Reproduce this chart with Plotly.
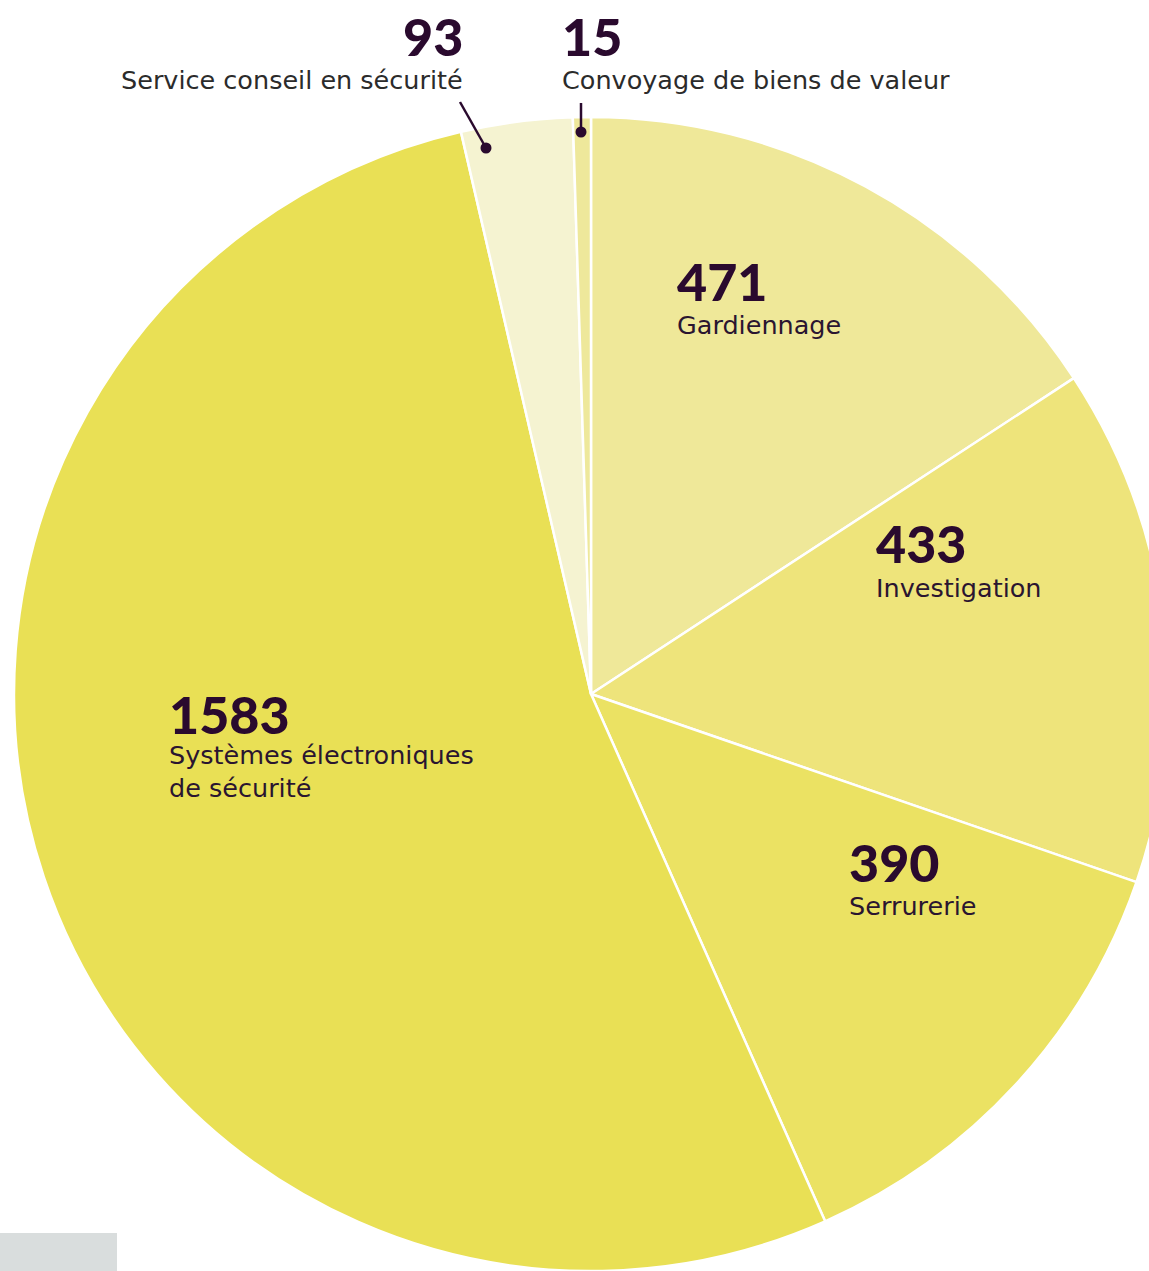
import plotly.graph_objects as go

# ---- data ----
categories = ["Gardiennage", "Investigation", "Serrurerie",
              "Systèmes électroniques de sécurité",
              "Service conseil en sécurité", "Convoyage de biens de valeur"]
values = [471, 433, 390, 1583, 93, 15]
label_texts = ["Gardiennage", "Investigation", "Serrurerie",
               "Systèmes électroniques<br>de sécurité",
               "Service conseil en sécurité", "Convoyage de biens de valeur"]
colors = ["#EFE899", "#EEE47B", "#EBE263", "#E9E055", "#F5F3D1", "#EEE89B"]

W, H = 1168, 1271


def px(x):
    return x / W


def py(y):
    return 1 - y / H


fig = go.Figure()
fig.add_trace(go.Pie(
    labels=categories, values=values,
    marker=dict(colors=colors, line=dict(color="white", width=2.5)),
    sort=False, direction="clockwise", rotation=0,
    textinfo="none", hoverinfo="label+value",
    domain=dict(x=[14 / W, 1], y=[0, (H - 117) / H]),
    showlegend=False,
))

NUM_COLOR = "#2A0A2E"
LAB_COLOR_IN = "#2A1530"
LAB_COLOR_OUT = "#2B2B2B"
NUM_FONT = dict(family="Lato Black, Lato", size=52, color=NUM_COLOR, weight=900)
LAB_FAMILY = "DejaVu Sans"
LAB_SIZE = 25.5

# (number anchor x, number center y, label center y, xanchor, label color)
placements = [
    (676, 281, 325, "left", LAB_COLOR_IN),
    (875, 543, 588, "left", LAB_COLOR_IN),
    (848, 862, 906, "left", LAB_COLOR_IN),
    (168, 714, 771, "left", LAB_COLOR_IN),
    (464, 36, 80, "right", LAB_COLOR_OUT),
    (561, 36, 80, "left", LAB_COLOR_OUT),
]

annotations = []
for v, t, (x, ny, ly, xa, lc) in zip(values, label_texts, placements):
    annotations.append(dict(
        x=px(x), y=py(ny), xref="paper", yref="paper",
        text=f"<b>{v}</b>", showarrow=False, xanchor=xa, yanchor="middle",
        align=xa, font=NUM_FONT, borderpad=0))
    annotations.append(dict(
        x=px(x), y=py(ly), xref="paper", yref="paper",
        text=t, showarrow=False, xanchor=xa, yanchor="middle", align=xa,
        font=dict(family=LAB_FAMILY, size=LAB_SIZE, color=lc), borderpad=0))

shapes = []
# leader lines with dots for the two small slices
leaders = [((460, 102), (486, 148)), ((581, 103), (581, 132))]
for (x0, y0), (x1, y1) in leaders:
    shapes.append(dict(type="line", xref="paper", yref="paper",
                       x0=px(x0), y0=py(y0), x1=px(x1), y1=py(y1),
                       line=dict(color=NUM_COLOR, width=2.5)))
    r = 5.5
    shapes.append(dict(type="circle", xref="paper", yref="paper",
                       x0=px(x1 - r), x1=px(x1 + r), y0=py(y1 + r), y1=py(y1 - r),
                       fillcolor=NUM_COLOR, line=dict(width=0)))
# grey tab at bottom-left
shapes.append(dict(type="rect", xref="paper", yref="paper",
                   x0=0, x1=px(117), y0=0, y1=py(1233),
                   fillcolor="#D9DDDD", line=dict(width=0), layer="above"))

fig.update_layout(
    width=W, height=H,
    margin=dict(l=0, r=0, t=0, b=0),
    paper_bgcolor="white", plot_bgcolor="white",
    annotations=annotations, shapes=shapes,
)

fig.write_html(
    "out.html",
    config={"displayModeBar": False},
    post_script="document.body.style.margin='0';document.body.style.overflow='hidden';",
)
